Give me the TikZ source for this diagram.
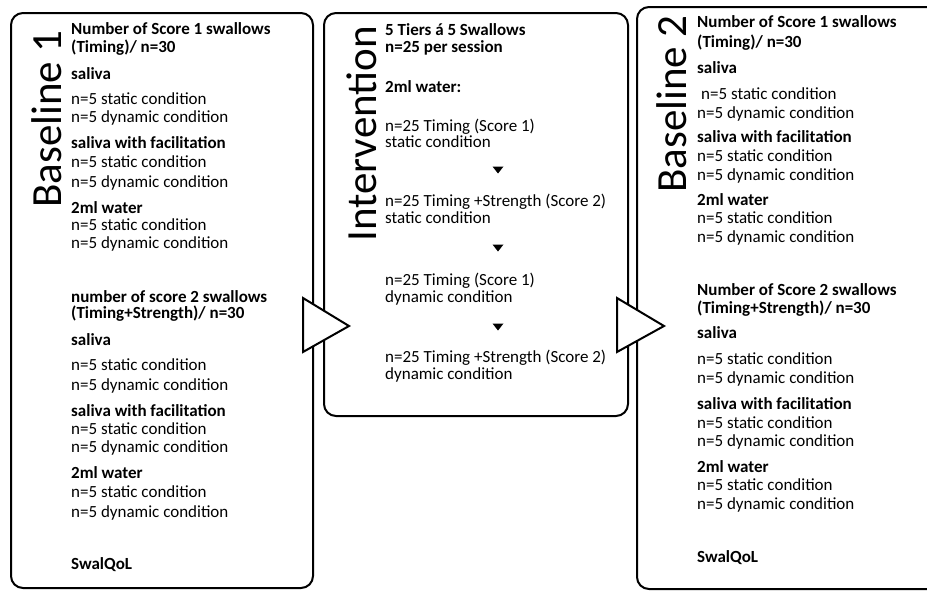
\documentclass[tikz,border=0pt]{standalone}
\usepackage{fontspec}
\setmainfont{Carlito}
\usepackage{tikz}

\tikzset{
    phase/.style={line width=2pt, rounded corners=12pt},
    txt/.style={anchor=base west, inner sep=0pt, font=\fontsize{17}{18}\selectfont},
    hd/.style={txt, font=\fontsize{17}{18}\selectfont\bfseries},
    lbl/.style={rotate=90, inner sep=0pt, font=\fontsize{43}{43}\selectfont},
    bigarr/.style={line width=2pt, fill=white, line join=miter}
}

\begin{document}
\begin{tikzpicture}[x=1pt,y=-1pt]
            \newcommand{\bline}[5]{
                \node[#1] (#2) at (#3,#4) {#5}
            }
            \newcommand{\dnarr}[2]{
                \fill (#1,#2) ++(-5.5,-3.5) -- ++(11,0) -- ++(-5.5,7) -- cycle
            }
            \useasboundingbox (0,0) rectangle (927,590);
            \clip (0,0) rectangle (927,590);

            % the three phases
            \draw[phase] (11,13) rectangle (313,588);
            \draw[phase] (324,13) rectangle (628,416);
            \draw[phase] (940,7) -- (637,7) -- (637,589) -- (940,589);

            \draw[bigarr] (303,298) -- (349,326) -- (303,352) -- cycle;
            \draw[bigarr] (617,298) -- (664,326) -- (617,352) -- cycle;

            \node[lbl] (base1) at (47,119) {Baseline 1};
            \node[lbl] (interv) at (362,134) {Intervention};
            \node[lbl] (base2) at (672,104) {Baseline 2};

            % baseline 1
            \bline{hd}{a1}{71}{34}{Number of Score 1 swallows};
            \bline{hd}{a2}{71}{52}{(Timing)/ n=30};
            \bline{hd}{a3}{71}{79}{saliva};
            \bline{txt}{a4}{71}{104}{n=5 static condition};
            \bline{txt}{a5}{71}{122}{n=5 dynamic condition};
            \bline{hd}{a6}{71}{148}{saliva with facilitation};
            \bline{txt}{a7}{71}{167}{n=5 static condition};
            \bline{txt}{a8}{71}{187}{n=5 dynamic condition};
            \bline{hd}{a9}{71}{213}{2ml water};
            \bline{txt}{a10}{71}{230}{n=5 static condition};
            \bline{txt}{a11}{71}{248}{n=5 dynamic condition};
            \bline{hd}{a12}{71}{302}{number of score 2 swallows};
            \bline{hd}{a13}{71}{318}{(Timing+Strength)/ n=30};
            \bline{hd}{a14}{71}{345}{saliva};
            \bline{txt}{a15}{71}{370}{n=5 static condition};
            \bline{txt}{a16}{71}{390}{n=5 dynamic condition};
            \bline{hd}{a17}{71}{416}{saliva with facilitation};
            \bline{txt}{a18}{71}{434}{n=5 static condition};
            \bline{txt}{a19}{71}{452}{n=5 dynamic condition};
            \bline{hd}{a20}{71}{478}{2ml water};
            \bline{txt}{a21}{71}{497}{n=5 static condition};
            \bline{txt}{a22}{71}{517}{n=5 dynamic condition};
            \bline{hd}{a23}{71}{569}{SwalQoL};

            % intervention
            \bline{hd}{b1}{385}{35}{5 Tiers á 5 Swallows};
            \bline{hd}{b2}{385}{52}{n=25 per session};
            \bline{hd}{b3}{385}{92}{2ml water:};
            \bline{txt}{b4}{385}{131}{n=25 Timing (Score 1)};
            \bline{txt}{b5}{385}{147}{static condition};
            \dnarr{498}{170};
            \bline{txt}{b6}{385}{206}{n=25 Timing +Strength (Score 2)};
            \bline{txt}{b7}{385}{223}{static condition};
            \dnarr{498}{248};
            \bline{txt}{b8}{385}{285}{n=25 Timing (Score 1)};
            \bline{txt}{b9}{385}{302}{dynamic condition};
            \dnarr{498}{327};
            \bline{txt}{b10}{385}{362}{n=25 Timing +Strength (Score 2)};
            \bline{txt}{b11}{385}{379}{dynamic condition};

            % baseline 2
            \bline{hd}{c1}{697}{27}{Number of Score 1 swallows};
            \bline{hd}{c2}{697}{47}{(Timing)/ n=30};
            \bline{hd}{c3}{697}{73}{saliva};
            \bline{txt}{c4}{697}{99}{\hspace{4pt}n=5 static condition};
            \bline{txt}{c5}{697}{118}{n=5 dynamic condition};
            \bline{hd}{c6}{697}{142}{saliva with facilitation};
            \bline{txt}{c7}{697}{161}{n=5 static condition};
            \bline{txt}{c8}{697}{180}{n=5 dynamic condition};
            \bline{hd}{c9}{697}{205}{2ml water};
            \bline{txt}{c10}{697}{223}{n=5 static condition};
            \bline{txt}{c11}{697}{242}{n=5 dynamic condition};
            \bline{hd}{c12}{697}{295}{Number of Score 2 swallows};
            \bline{hd}{c13}{697}{313}{(Timing+Strength)/ n=30};
            \bline{hd}{c14}{697}{338}{saliva};
            \bline{txt}{c15}{697}{364}{n=5 static condition};
            \bline{txt}{c16}{697}{383}{n=5 dynamic condition};
            \bline{hd}{c17}{697}{409}{saliva with facilitation};
            \bline{txt}{c18}{697}{428}{n=5 static condition};
            \bline{txt}{c19}{697}{446}{n=5 dynamic condition};
            \bline{hd}{c20}{697}{472}{2ml water};
            \bline{txt}{c21}{697}{490}{n=5 static condition};
            \bline{txt}{c22}{697}{509}{n=5 dynamic condition};
            \bline{hd}{c23}{697}{562}{SwalQoL};
        \end{tikzpicture}
\end{document}
